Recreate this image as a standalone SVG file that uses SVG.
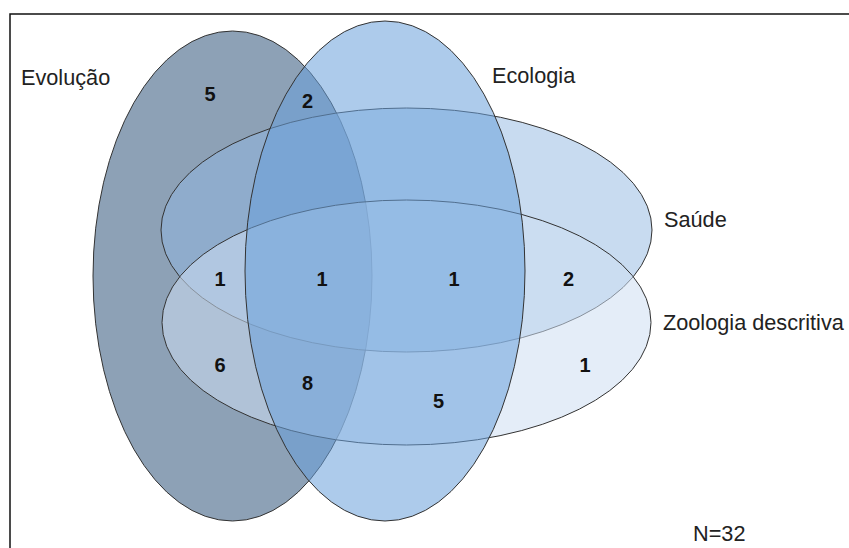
<svg xmlns="http://www.w3.org/2000/svg" width="849" height="548" viewBox="0 0 849 548">
<style>
.set{stroke:#333;stroke-width:1}
.lbl{font-family:"Liberation Sans",Arial,sans-serif;font-size:21.7px;fill:#222}
.num{font-family:"Liberation Sans",Arial,sans-serif;font-size:20px;font-weight:bold;fill:#111;text-anchor:middle}
</style>
<rect x="0" y="0" width="849" height="548" fill="#fff"/>
<rect x="10" y="14" width="850" height="550" fill="none" stroke="#111" stroke-width="1.5"/>
<g id="evolucao">
<ellipse class="set" cx="232.5" cy="276" rx="139.5" ry="245" fill="#8DA1B6"/>
</g>
<g id="saude">
<ellipse class="set" cx="406.5" cy="230" rx="245.5" ry="122" fill="#91B7E1" fill-opacity="0.5"/>
</g>
<g id="zoologia">
<ellipse class="set" cx="406.5" cy="322.5" rx="244.5" ry="122.5" fill="#CDDEF2" fill-opacity="0.55"/>
</g>
<g id="ecologia">
<ellipse class="set" cx="385" cy="271" rx="140" ry="250" fill="#6AA0DA" fill-opacity="0.55"/>
</g>
<g id="labels">
<text class="lbl" x="21" y="85">Evolução</text>
<text class="lbl" x="492" y="83">Ecologia</text>
<text class="lbl" x="664" y="227">Saúde</text>
<text class="lbl" x="663" y="330">Zoologia descritiva</text>
<text class="lbl" x="693" y="541">N=32</text>
</g>
<g id="counts">
<text class="num" x="210" y="101">5</text>
<text class="num" x="307.5" y="108">2</text>
<text class="num" x="220" y="286">1</text>
<text class="num" x="322" y="286">1</text>
<text class="num" x="454" y="286">1</text>
<text class="num" x="568.5" y="286">2</text>
<text class="num" x="220" y="372">6</text>
<text class="num" x="307.5" y="390">8</text>
<text class="num" x="438.5" y="408">5</text>
<text class="num" x="585" y="372">1</text>
</g>
</svg>
